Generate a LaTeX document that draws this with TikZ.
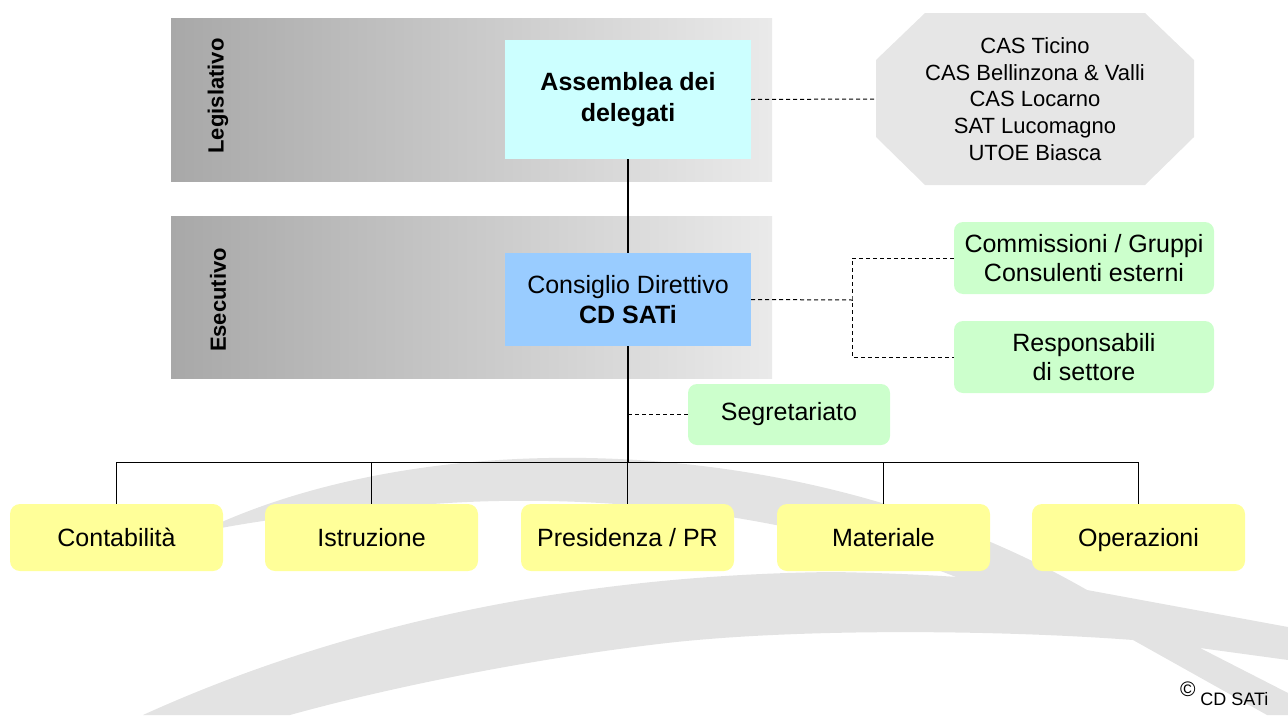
\documentclass[tikz,border=0pt]{standalone}
\usepackage{fontspec}
\setmainfont{Liberation Sans}

\definecolor{bandleft}{RGB}{168,168,168}
\definecolor{bandright}{RGB}{234,234,234}
\definecolor{swoosh}{RGB}{227,227,227}
\definecolor{octfill}{RGB}{230,230,230}
\definecolor{assfill}{RGB}{204,255,255}
\definecolor{cdfill}{RGB}{153,204,255}
\definecolor{greenfill}{RGB}{204,255,204}
\definecolor{yellowfill}{RGB}{255,255,153}

\tikzset{
  base/.style={inner sep=0pt, align=center, font=\fontsize{25}{29.5}\selectfont},
  assbox/.style={base, fill=assfill, minimum width=246pt, minimum height=119pt,
    font=\bfseries\fontsize{25}{31}\selectfont},
  cdbox/.style={base, fill=cdfill, minimum width=246pt, minimum height=93pt},
  greenbox/.style={base, fill=greenfill, rounded corners=9pt},
  yellowbox/.style={base, fill=yellowfill, rounded corners=10pt,
    minimum width=213pt, minimum height=67pt, text height=21pt, text depth=3pt},
  sezione/.style={rotate=90, font=\bfseries\fontsize{22}{26}\selectfont},
  dashline/.style={dash pattern=on 4pt off 3pt, line width=1pt},
  link/.style={line width=1.3pt},
}

\begin{document}
\begin{tikzpicture}[x=1pt, y=-1pt]
    \useasboundingbox (0,0) rectangle (1288,715);

    % logo in the background
    \fill[swoosh] (200,532) .. controls (420,425) and (800,425) .. (1087,590)
        -- (1288,627) -- (1288,660) -- (1200,648) -- (1288,693) -- (1288,715)
        -- (1267,715) -- (1133,640) -- (956,577)
        .. controls (800,515) and (600,490) .. (420,505)
        .. controls (320,512) and (260,520) .. (200,532) -- cycle;
    \fill[swoosh] (143,715) .. controls (330,630) and (560,575) .. (833,572)
        .. controls (950,574) and (1030,582) .. (1087,590) -- (1133,640)
        .. controls (1000,630) and (800,628) .. (667,643)
        .. controls (520,660) and (380,690) .. (290,715) -- cycle;

    \shade[left color=bandleft, right color=bandright] (171,18) rectangle (772,181);
    \shade[left color=bandleft, right color=bandright] (171,216) rectangle (772,378);
    \node[sezione] (legis) at (218,96) {Legislativo};
    \node[sezione] (esec) at (218,300) {Esecutivo};

    % sections: an octagon with cut corners
    \fill[octfill] (925,13) -- (1145,13) -- (1194,60) -- (1194,137) -- (1145,185)
        -- (925,185) -- (876,137) -- (876,60) -- cycle;
    \node[base, minimum width=318pt, minimum height=172pt,
          font=\fontsize{22}{26.7}\selectfont] (sezioni) at (1035,99)
        {CAS Ticino\\CAS Bellinzona \& Valli\\CAS Locarno\\SAT Lucomagno\\UTOE Biasca};

    \node[assbox] (assemblea) at (628,99.5) {Assemblea dei\\delegati};
    \node[cdbox] (consiglio) at (628,299.5) {Consiglio Direttivo\\\bfseries CD SATi};

    \node[greenbox, minimum width=260pt, minimum height=72pt] (commissioni) at (1084,258)
        {Commissioni / Gruppi\\Consulenti esterni};
    \node[greenbox, minimum width=260pt, minimum height=72pt] (responsabili) at (1084,357)
        {Responsabili\\di settore};
    \node[greenbox, minimum width=202pt, minimum height=61pt] (segretariato) at (789,414.5)
        {Segretariato};

    \foreach \n/\x/\txt in {contab/116.5/Contabilità, istruz/371.5/Istruzione,
        presid/627.5/{Presidenza / PR}, mater/883.5/Materiale, operaz/1138.5/Operazioni}
        \node[yellowbox] (\n) at (\x,537.5) {\txt};

    \coordinate (bus) at (628,462);
    \coordinate (split) at (852,300);

    \draw[link] (assemblea.south) -- (consiglio.north);
    \draw[line width=2pt] (consiglio.south) -- (bus);
    \draw[line width=1pt] (contab.north |- bus) -- (operaz.north |- bus);
    \foreach \n in {contab, istruz, presid, mater, operaz}
        \draw[line width=1pt] (\n.north) -- (\n.north |- bus);

    \draw[dashline] (assemblea.east) -- (sezioni.west);
    \draw[dashline] (consiglio.east) -- (split);
    \draw[dashline] (commissioni.west) -| (split) |- (responsabili.west);
    \draw[dashline] (segretariato.west) -- (segretariato.west -| consiglio.south);

    \node[anchor=base east, font=\fontsize{18}{20}\selectfont] (copyr) at (1272,705)
        {\raisebox{0.9ex}{\fontsize{21}{22}\selectfont ©}\hspace{5pt}CD SATi};
\end{tikzpicture}
\end{document}
